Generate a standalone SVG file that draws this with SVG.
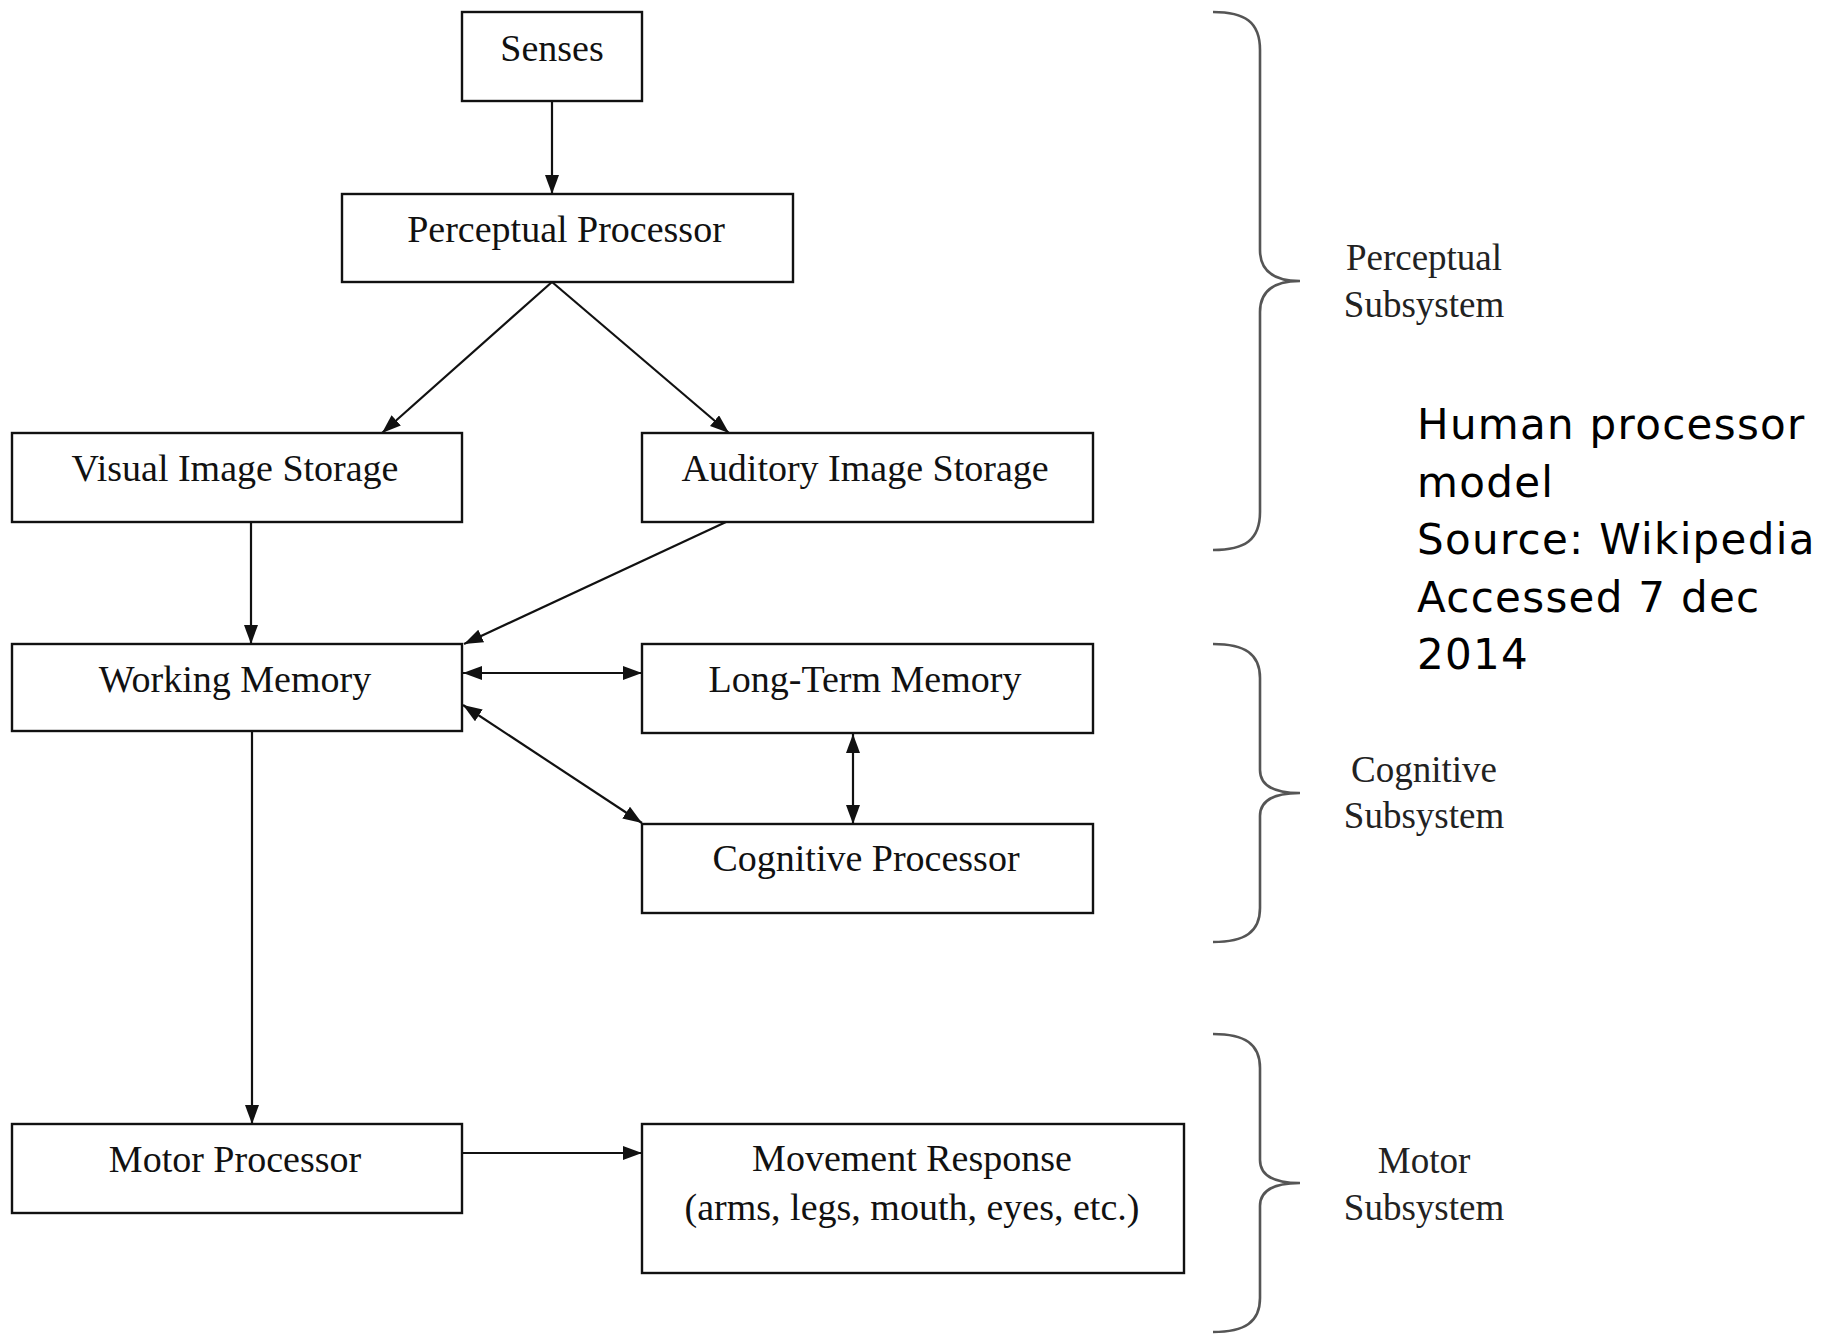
<svg xmlns="http://www.w3.org/2000/svg" width="1845" height="1334" viewBox="0 0 1845 1334">
<style>
.box{fill:#fff;stroke:#111;stroke-width:2.4}
.lbl{font-family:"Liberation Serif","Times New Roman",serif;font-size:38px;fill:#111;text-anchor:middle}
.sub{font-family:"Liberation Serif","Times New Roman",serif;font-size:37px;fill:#222;text-anchor:middle}
.note{font-family:"DejaVu Sans",sans-serif;font-size:42px;letter-spacing:1.3px;fill:#000}
.con{fill:none;stroke:#111;stroke-width:2.2}
.brace{fill:none;stroke:#555;stroke-width:2.6}
</style>
<defs>
<marker id="ah" markerUnits="userSpaceOnUse" markerWidth="22" markerHeight="16" refX="19" refY="7" orient="auto-start-reverse">
<path d="M0,0 L19,7 L0,14 z" fill="#111"/>
</marker>
</defs>
<rect width="1845" height="1334" fill="#fff"/>

<g id="connectors">
<line class="con" x1="552" y1="101" x2="552" y2="194" marker-end="url(#ah)"/>
<line class="con" x1="552" y1="282" x2="382" y2="433" marker-end="url(#ah)"/>
<line class="con" x1="552" y1="282" x2="729" y2="433" marker-end="url(#ah)"/>
<line class="con" x1="251" y1="522" x2="251" y2="644" marker-end="url(#ah)"/>
<line class="con" x1="726" y1="522" x2="464" y2="644" marker-end="url(#ah)"/>
<line class="con" x1="463" y1="673" x2="642" y2="673" marker-start="url(#ah)" marker-end="url(#ah)"/>
<line class="con" x1="463" y1="705" x2="642" y2="823" marker-start="url(#ah)" marker-end="url(#ah)"/>
<line class="con" x1="853" y1="734" x2="853" y2="824" marker-start="url(#ah)" marker-end="url(#ah)"/>
<line class="con" x1="252" y1="731" x2="252" y2="1124" marker-end="url(#ah)"/>
<line class="con" x1="462" y1="1153" x2="642" y2="1153" stroke-width="3" marker-end="url(#ah)"/>
</g>

<g id="senses"><rect class="box" x="462" y="12" width="180" height="89"/><text class="lbl" x="552" y="61">Senses</text></g>
<g id="perceptual-processor"><rect class="box" x="342" y="194" width="451" height="88"/><text class="lbl" x="566" y="242">Perceptual Processor</text></g>
<g id="visual-image-storage"><rect class="box" x="12" y="433" width="450" height="89"/><text class="lbl" x="235" y="481">Visual Image Storage</text></g>
<g id="auditory-image-storage"><rect class="box" x="642" y="433" width="451" height="89"/><text class="lbl" x="865" y="481">Auditory Image Storage</text></g>
<g id="working-memory"><rect class="box" x="12" y="644" width="450" height="87"/><text class="lbl" x="235" y="692">Working Memory</text></g>
<g id="long-term-memory"><rect class="box" x="642" y="644" width="451" height="89"/><text class="lbl" x="865" y="692">Long-Term Memory</text></g>
<g id="cognitive-processor"><rect class="box" x="642" y="824" width="451" height="89"/><text class="lbl" x="866" y="871">Cognitive Processor</text></g>
<g id="motor-processor"><rect class="box" x="12" y="1124" width="450" height="89"/><text class="lbl" x="235" y="1172">Motor Processor</text></g>
<g id="movement-response"><rect class="box" x="642" y="1124" width="542" height="149"/><text class="lbl" x="912" y="1171">Movement Response</text><text class="lbl" x="912" y="1220">(arms, legs, mouth, eyes, etc.)</text></g>

<g id="perceptual-subsystem">
<path class="brace" d="M1213,12 C1245,12 1260,22 1260,50 L1260,250 C1260,272 1275,281 1300,281 C1275,281 1260,290 1260,312 L1260,512 C1260,540 1245,550 1213,550"/>
<text class="sub" x="1424" y="270">Perceptual</text><text class="sub" x="1424" y="317">Subsystem</text>
</g>
<g id="cognitive-subsystem">
<path class="brace" d="M1213,644 C1245,644 1260,654 1260,678 L1260,770 C1260,786 1275,793 1300,793 C1275,793 1260,800 1260,816 L1260,908 C1260,932 1245,942 1213,942"/>
<text class="sub" x="1424" y="782">Cognitive</text><text class="sub" x="1424" y="828">Subsystem</text>
</g>
<g id="motor-subsystem">
<path class="brace" d="M1213,1034 C1245,1034 1260,1044 1260,1068 L1260,1160 C1260,1176 1275,1183 1300,1183 C1275,1183 1260,1190 1260,1206 L1260,1298 C1260,1322 1245,1332 1213,1332"/>
<text class="sub" x="1424" y="1173">Motor</text><text class="sub" x="1424" y="1220">Subsystem</text>
</g>

<g id="note">
<text class="note" x="1417" y="439">Human processor</text>
<text class="note" x="1417" y="497">model</text>
<text class="note" x="1417" y="554">Source: Wikipedia</text>
<text class="note" x="1417" y="612">Accessed 7 dec</text>
<text class="note" x="1417" y="669">2014</text>
</g>
</svg>
